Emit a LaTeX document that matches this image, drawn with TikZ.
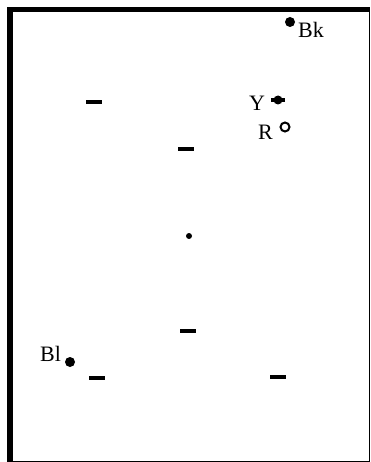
\documentclass[tikz,border=0pt]{standalone}
\usepackage{fontspec}
\setmainfont{Liberation Serif}
\begin{document}
\begin{tikzpicture}[x=1pt,y=-1pt,
  bar/.style={fill=black,minimum width=16pt,minimum height=4pt,inner sep=0pt,draw=none,rectangle},
  bigdot/.style={circle,fill=black,minimum size=10pt,inner sep=0pt},
  lbl/.style={font=\fontsize{22}{22}\selectfont,inner sep=0pt,anchor=base west}]
\useasboundingbox (0,0) rectangle (371,462);
% frame
\draw[line width=1pt] (12,12) rectangle (369.5,461);
\draw[line width=5.5pt] (9.5,462) -- (9.5,9.5) -- (370,9.5);
% bars
\node[bar] (b1) at (94,102) {};
\node[bar] (b2) at (186,149) {};
\node[bar] (b3) at (188,331) {};
\node[bar] (b4) at (97,378) {};
\node[bar] (b5) at (278,377) {};
% centre dot
\node[circle,fill=black,minimum size=6pt,inner sep=0pt] (c) at (189,236) {};
% Bk
\node[bigdot] (bk) at (290,22) {};
\node[lbl] (bkl) at (298,38) {Bk};
% Y
\node[bar,minimum width=14pt,minimum height=4pt] (ybar) at (278,100) {};
\node[circle,fill=black,minimum size=9pt,inner sep=0pt] (y) at (278,100) {};
\node[lbl] (yl) at (249,111) {Y};
% R
\node[circle,draw=black,line width=2pt,minimum size=9pt,inner sep=0pt] (r) at (285,127) {};
\node[lbl] (rl) at (258,140) {R};
% Bl
\node[bigdot] (bl) at (70,362) {};
\node[lbl] (bll) at (40,361) {Bl};
\end{tikzpicture}
\end{document}
